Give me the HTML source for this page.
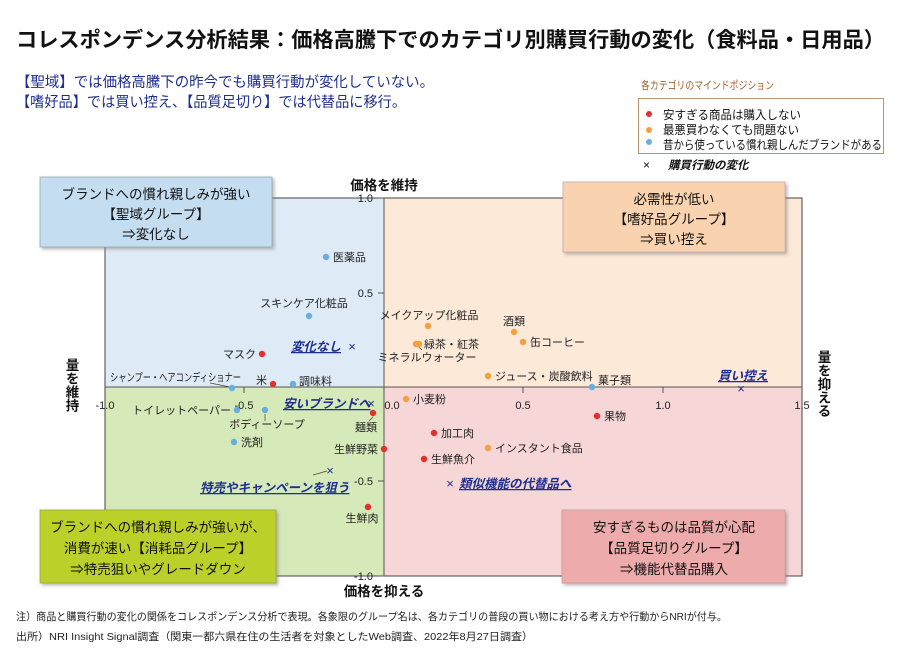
<!DOCTYPE html>
<html><head><meta charset="utf-8"><style>
body{margin:0;background:#fff;}
svg{display:block;font-family:"Liberation Sans","Noto Sans CJK JP",sans-serif;}
</style></head><body>
<svg width="900" height="654" viewBox="0 0 900 654" xmlns="http://www.w3.org/2000/svg">
<defs><filter id="sh" x="-5%" y="-5%" width="115%" height="120%"><feDropShadow dx="2" dy="2" stdDeviation="1.5" flood-color="#888" flood-opacity="0.6"/></filter></defs>
<text x="16" y="47" font-size="21" font-weight="bold" fill="#111" textLength="869" lengthAdjust="spacingAndGlyphs">コレスポンデンス分析結果：価格高騰下でのカテゴリ別購買行動の変化（食料品・日用品）</text>
<text x="16" y="87" font-size="14.5" fill="#1f2f8f" textLength="418" lengthAdjust="spacingAndGlyphs">【聖域】では価格高騰下の昨今でも購買行動が変化していない。</text>
<text x="16" y="107" font-size="14.5" fill="#1f2f8f" textLength="390" lengthAdjust="spacingAndGlyphs">【嗜好品】では買い控え、【品質足切り】では代替品に移行。</text>

<text x="641" y="89" font-size="11" fill="#a0602a" textLength="133" lengthAdjust="spacingAndGlyphs">各カテゴリのマインドポジション</text>
<rect x="638.5" y="98.5" width="245" height="55" fill="#fff" stroke="#b8946a"/>
<circle cx="649" cy="114" r="3" fill="#e03030"/><text x="663" y="119" font-size="12" fill="#111" textLength="138" lengthAdjust="spacingAndGlyphs">安すぎる商品は購入しない</text>
<circle cx="649" cy="130" r="3" fill="#f5a040"/><text x="663" y="134" font-size="12" fill="#111" textLength="136" lengthAdjust="spacingAndGlyphs">最悪買わなくても問題ない</text>
<circle cx="649" cy="142" r="3" fill="#6aaee0"/><text x="663" y="149" font-size="12" fill="#111" textLength="219" lengthAdjust="spacingAndGlyphs">昔から使っている慣れ親しんだブランドがある</text>
<text x="643" y="169" font-size="12" fill="#111">×</text><text x="668" y="169" font-size="11.5" font-weight="bold" font-style="italic" fill="#111">購買行動の変化</text>

<rect x="105" y="198" width="279" height="189" fill="#deebf6"/>
<rect x="384" y="198" width="418" height="189" fill="#fde9d8"/>
<rect x="105" y="387" width="279" height="189" fill="#d6e9b8"/>
<rect x="384" y="387" width="418" height="189" fill="#f6d6d6"/>
<rect x="105" y="198" width="697" height="378" fill="none" stroke="#444" stroke-width="1"/>
<line x1="384" y1="198" x2="384" y2="576" stroke="#555"/>
<line x1="105" y1="387" x2="802" y2="387" stroke="#555"/>
<g stroke="#555">
<line x1="378" y1="198" x2="384" y2="198"/><line x1="378" y1="293" x2="384" y2="293"/><line x1="378" y1="481" x2="384" y2="481"/><line x1="378" y1="576" x2="384" y2="576"/>
<line x1="244" y1="387" x2="244" y2="393"/><line x1="523" y1="387" x2="523" y2="393"/><line x1="663" y1="387" x2="663" y2="393"/>
</g>
<g font-size="11" fill="#222">
<text x="373" y="202" text-anchor="end">1.0</text>
<text x="373" y="297" text-anchor="end">0.5</text>
<text x="373" y="485" text-anchor="end">-0.5</text>
<text x="373" y="580" text-anchor="end">-1.0</text>
<text x="105" y="409" text-anchor="middle">-1.0</text>
<text x="244" y="409" text-anchor="middle">-0.5</text>
<text x="392" y="409" text-anchor="middle">0.0</text>
<text x="523" y="409" text-anchor="middle">0.5</text>
<text x="663" y="409" text-anchor="middle">1.0</text>
<text x="802" y="409" text-anchor="middle">1.5</text>
</g>
<g font-size="13.5" font-weight="bold" fill="#111">
<text x="384" y="190" text-anchor="middle">価格を維持</text>
<text x="384" y="596" text-anchor="middle">価格を抑える</text>
<text x="71" y="358" writing-mode="tb">量を維持</text>
<text x="823" y="350" writing-mode="tb">量を抑える</text>
</g>

<g filter="url(#sh)">
<rect x="40" y="177" width="232" height="70" fill="#c4ddf1" stroke="#9aa" stroke-width="0.8"/>
<rect x="563" y="182" width="222" height="70" fill="#f9d3b0" stroke="#caa" stroke-width="0.8"/>
<rect x="40" y="510" width="236" height="73" fill="#bcd02a" stroke="#9a3" stroke-width="0.8"/>
<rect x="562" y="510" width="223" height="73" fill="#eeabab" stroke="#c99" stroke-width="0.8"/>
</g>
<g font-size="13.5" fill="#111" text-anchor="middle">
<text x="156" y="199">ブランドへの慣れ親しみが強い</text>
<text x="156" y="219">【聖域グループ】</text>
<text x="156" y="239">⇒変化なし</text>
<text x="674" y="204">必需性が低い</text>
<text x="674" y="224">【嗜好品グループ】</text>
<text x="674" y="244">⇒買い控え</text>
<text x="158" y="532">ブランドへの慣れ親しみが強いが、</text>
<text x="158" y="553">消費が速い【消耗品グループ】</text>
<text x="158" y="574">⇒特売狙いやグレードダウン</text>
<text x="674" y="532">安すぎるものは品質が心配</text>
<text x="674" y="553">【品質足切りグループ】</text>
<text x="674" y="574">⇒機能代替品購入</text>
</g>

<g stroke="#444" stroke-width="0.7">
<line x1="210" y1="383" x2="230" y2="387"/>
<line x1="265" y1="414" x2="265" y2="421"/>
<line x1="373" y1="417" x2="369" y2="421"/>
<line x1="418" y1="346" x2="422" y2="350"/>
<line x1="313" y1="475" x2="327" y2="471"/>
</g>
<g>
<g fill="#6aaee0">
<circle cx="326" cy="257" r="3.2"/><circle cx="309" cy="316" r="3.2"/><circle cx="232" cy="388" r="3.2"/><circle cx="293" cy="384" r="3.2"/><circle cx="237" cy="410" r="3.2"/><circle cx="265" cy="410" r="3.2"/><circle cx="234" cy="442" r="3.2"/><circle cx="592" cy="387" r="3.2"/>
</g>
<g fill="#e03030">
<circle cx="262" cy="354" r="3.2"/><circle cx="273" cy="384" r="3.2"/><circle cx="373" cy="413" r="3.2"/><circle cx="384" cy="449" r="3.2"/><circle cx="368" cy="507" r="3.2"/><circle cx="597" cy="416" r="3.2"/><circle cx="434" cy="433" r="3.2"/><circle cx="424" cy="459" r="3.2"/>
</g>
<g fill="#f5a040">
<circle cx="428" cy="326" r="3.2"/><circle cx="416" cy="344" r="3.2"/><circle cx="419" cy="344" r="3.2"/><circle cx="514" cy="332" r="3.2"/><circle cx="523" cy="342" r="3.2"/><circle cx="488" cy="376" r="3.2"/><circle cx="406" cy="399" r="3.2"/><circle cx="488" cy="448" r="3.2"/>
</g>
</g>
<g font-size="11" fill="#222">
<text x="333" y="261">医薬品</text>
<text x="304" y="307" text-anchor="middle">スキンケア化粧品</text>
<text x="256" y="358" text-anchor="end">マスク</text>
<text x="110" y="381" textLength="131" lengthAdjust="spacingAndGlyphs">シャンプー・ヘアコンディショナー</text>
<text x="267" y="384" text-anchor="end">米</text>
<text x="299" y="385">調味料</text>
<text x="231" y="414" text-anchor="end">トイレットペーパー</text>
<text x="267" y="428" text-anchor="middle">ボディーソープ</text>
<text x="241" y="446">洗剤</text>
<text x="366" y="431" text-anchor="middle">麺類</text>
<text x="378" y="453" text-anchor="end">生鮮野菜</text>
<text x="362" y="522" text-anchor="middle">生鮮肉</text>
<text x="429" y="319" text-anchor="middle">メイクアップ化粧品</text>
<text x="424" y="348">緑茶・紅茶</text>
<text x="427" y="361" text-anchor="middle">ミネラルウォーター</text>
<text x="514" y="325" text-anchor="middle">酒類</text>
<text x="530" y="346">缶コーヒー</text>
<text x="495" y="380">ジュース・炭酸飲料</text>
<text x="598" y="384">菓子類</text>
<text x="413" y="403">小麦粉</text>
<text x="604" y="420">果物</text>
<text x="441" y="437">加工肉</text>
<text x="495" y="452">インスタント食品</text>
<text x="431" y="463">生鮮魚介</text>
</g>
<g font-size="12.5" font-weight="bold" font-style="italic" fill="#1f2f8f" text-decoration="underline">
<text x="291" y="351">変化なし</text>
<text x="283" y="408">安いブランドへ</text>
<text x="200" y="492">特売やキャンペーンを狙う</text>
<text x="459" y="488">類似機能の代替品へ</text>
<text x="718" y="380">買い控え</text>
</g>
<g font-size="13" fill="#1f2f8f" text-anchor="middle">
<text x="352" y="351">×</text>
<text x="371" y="408">×</text>
<text x="330" y="475">×</text>
<text x="450" y="488">×</text>
<text x="741" y="393">×</text>
</g>

<text x="16" y="620" font-size="10.5" fill="#222" textLength="711" lengthAdjust="spacingAndGlyphs">注）商品と購買行動の変化の関係をコレスポンデンス分析で表現。各象限のグループ名は、各カテゴリの普段の買い物における考え方や行動からNRIが付与。</text>
<text x="16" y="640" font-size="10.5" fill="#222" textLength="517" lengthAdjust="spacingAndGlyphs">出所）NRI Insight Signal調査（関東一都六県在住の生活者を対象としたWeb調査、2022年8月27日調査）</text>
</svg>
</body></html>
